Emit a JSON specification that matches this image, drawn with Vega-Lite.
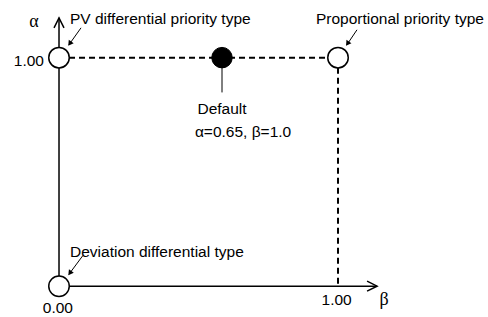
{
  "$schema": "https://vega.github.io/schema/vega-lite/v6.json",
  "width": 488,
  "height": 317,
  "padding": 0,
  "autosize": {"type": "fit", "contains": "padding"},
  "background": "white",
  "config": {"view": {"stroke": null}},
  "encoding": {
    "x": {"field": "x", "type": "quantitative", "axis": null, "scale": {"domain": [-0.2115, 1.5376], "nice": false, "zero": false}},
    "y": {"field": "y", "type": "quantitative", "axis": null, "scale": {"domain": [-0.1261, 1.2522], "nice": false, "zero": false}}
  },
  "layer": [
    {
      "data": {"values": [{"x": 0, "y": 0, "x2": 1.14, "y2": 0}, {"x": 0, "y": 0, "x2": 0, "y2": 1.174}]},
      "mark": {"type": "rule", "stroke": "black", "strokeWidth": 1.5},
      "encoding": {"x2": {"field": "x2"}, "y2": {"field": "y2"}}
    },
    {
      "data": {"values": [{"x": 0, "y": 1, "x2": 1, "y2": 1}, {"x": 1, "y": 1, "x2": 1, "y2": 0}]},
      "mark": {"type": "rule", "stroke": "black", "strokeWidth": 2, "strokeDash": [6, 4]},
      "encoding": {"x2": {"field": "x2"}, "y2": {"field": "y2"}}
    },
    {
      "data": {"values": [
        {"x": 0.0789, "y": 1.1304, "x2": 0.0358, "y2": 1.0565},
        {"x": 1.068, "y": 1.1217, "x2": 1.032, "y2": 1.0565},
        {"x": 0.086, "y": 0.1348, "x2": 0.0358, "y2": 0.0522},
        {"x": 0.5842, "y": 0.8478, "x2": 0.5842, "y2": 0.9739}
      ]},
      "mark": {"type": "rule", "stroke": "black", "strokeWidth": 1},
      "encoding": {"x2": {"field": "x2"}, "y2": {"field": "y2"}}
    },
    {
      "data": {"values": [
        {"x": 0.0385, "y": 1.061, "a": 215},
        {"x": 1.034, "y": 1.061, "a": 214},
        {"x": 0.0388, "y": 0.057, "a": 216},
        {"x": 0.5842, "y": 0.966, "a": 0}
      ]},
      "mark": {"type": "point", "shape": "triangle-up", "filled": true, "color": "black", "size": 36, "opacity": 1},
      "encoding": {"angle": {"field": "a", "type": "quantitative", "scale": null}}
    },
    {
      "data": {"values": [{"x": 1.14, "y": 0, "a": 90}, {"x": 0, "y": 1.174, "a": 0}]},
      "mark": {"type": "point", "shape": "M-1,2L0,0L1,2", "filled": false, "stroke": "black", "strokeWidth": 1.5, "size": 100, "opacity": 1},
      "encoding": {"angle": {"field": "a", "type": "quantitative", "scale": null}}
    },
    {
      "data": {"values": [{"x": 0, "y": 0}, {"x": 0, "y": 1}, {"x": 1, "y": 1}]},
      "mark": {"type": "point", "shape": "circle", "filled": true, "fill": "white", "stroke": "black", "strokeWidth": 1.5, "size": 420, "opacity": 1}
    },
    {
      "data": {"values": [{"x": 0.5842, "y": 1}]},
      "mark": {"type": "point", "shape": "circle", "filled": true, "fill": "black", "stroke": "black", "strokeWidth": 1, "size": 420, "opacity": 1}
    },
    {
      "data": {"values": [
        {"x": 0.0394, "y": 1.147, "t": "PV differential priority type"},
        {"x": 0.921, "y": 1.149, "t": "Proportional priority type"},
        {"x": 0.0394, "y": 0.129, "t": "Deviation differential type"},
        {"x": 0.487, "y": 0.651, "t": "α=0.65, β=1.0"}
      ]},
      "mark": {"type": "text", "align": "left", "baseline": "alphabetic", "font": "Liberation Sans", "fontSize": 15.5, "color": "black"},
      "encoding": {"text": {"field": "t"}}
    },
    {
      "data": {"values": [
        {"x": 0.5842, "y": 0.752, "t": "Default"},
        {"x": -0.004, "y": -0.117, "t": "0.00"},
        {"x": 0.995, "y": -0.084, "t": "1.00"}
      ]},
      "mark": {"type": "text", "align": "center", "baseline": "alphabetic", "font": "Liberation Sans", "fontSize": 15.5, "color": "black"},
      "encoding": {"text": {"field": "t"}}
    },
    {
      "data": {"values": [{"x": -0.0538, "y": 0.965, "t": "1.00"}]},
      "mark": {"type": "text", "align": "right", "baseline": "alphabetic", "font": "Liberation Sans", "fontSize": 15.5, "color": "black"},
      "encoding": {"text": {"field": "t"}}
    },
    {
      "data": {"values": [{"x": -0.0896, "y": 1.136, "t": "α"}, {"x": 1.165, "y": -0.083, "t": "β"}]},
      "mark": {"type": "text", "align": "center", "baseline": "alphabetic", "font": "Liberation Serif", "fontSize": 18, "color": "black"},
      "encoding": {"text": {"field": "t"}}
    }
  ]
}
